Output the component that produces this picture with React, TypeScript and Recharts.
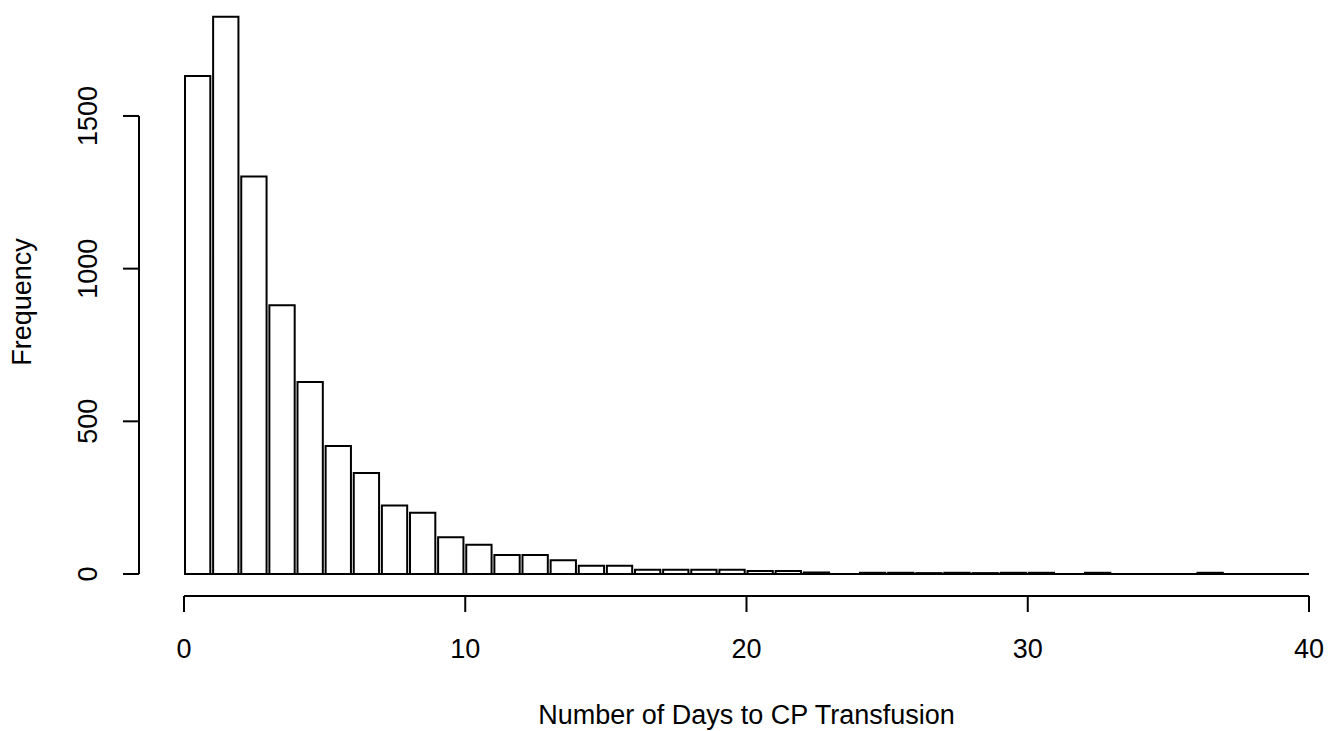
import React from 'react';
import { ComposedChart, Bar, XAxis, YAxis, ReferenceLine, Label } from 'recharts';

// Histogram bins (width 1 day) and counts
const binStarts = [0, 1, 2, 3, 4, 5, 6, 7, 8, 9, 10, 11, 12, 13, 14, 15, 16, 17, 18, 19,
  20, 21, 22, 23, 24, 25, 26, 27, 28, 29, 30, 31, 32, 33, 34, 35, 36, 37, 38, 39];
const counts = [1631, 1825, 1302, 880, 629, 419, 331, 224, 201, 120,
  96, 62, 62, 45, 27, 27, 14, 14, 14, 14,
  10, 10, 5, 0, 4, 4, 3, 4, 3, 4,
  4, 0, 4, 0, 0, 0, 4, 0, 0, 0];
const xTicks = [0, 10, 20, 30, 40];
const yTicks = [0, 500, 1000, 1500];
const xLabel = 'Number of Days to CP Transfusion';
const yLabel = 'Frequency';

const data = binStarts.map((s, i) => ({ mid: s + 0.5, count: counts[i] }));

const W = 1340;
const H = 731;
const X_MIN = -1.6;
const X_MAX = 40.8;
const Y_MIN = -72;
const Y_MAX = 1847;
const LEFT = 139;
const TOP = 10;
const RIGHT = 8.5;
const XAXIS_H = 135;
const FONT = "'Liberation Sans', Arial, sans-serif";
const FS = 27;
const PLOT_W = W - LEFT - RIGHT;
const BAR_PX = PLOT_W / (X_MAX - X_MIN);

const XTick = (props: any) => {
  const { x, y, payload } = props;
  return (
    <text x={x} y={y + 44} textAnchor="middle" fontFamily={FONT} fontSize={FS} fill="#000">
      {payload.value}
    </text>
  );
};

const YTick = (props: any) => {
  const { x, y, payload } = props;
  const bx = x - 24;
  return (
    <text x={bx} y={y} transform={`rotate(-90 ${bx} ${y})`} textAnchor="middle" fontFamily={FONT} fontSize={FS} fill="#000">
      {payload.value}
    </text>
  );
};

const XLabelC = (props: any) => {
  const vb = props.viewBox;
  const per = vb.width / (X_MAX - X_MIN);
  const cx = vb.x + (20 - X_MIN) * per;
  return (
    <text x={cx} y={vb.y + 128} textAnchor="middle" fontFamily={FONT} fontSize={FS} fill="#000">
      {xLabel}
    </text>
  );
};

const YLabelC = (props: any) => {
  const vb = props.viewBox;
  const bx = 31;
  const cy = vb.y + vb.height / 2 - 1;
  return (
    <text x={bx} y={cy} transform={`rotate(-90 ${bx} ${cy})`} textAnchor="middle" fontFamily={FONT} fontSize={FS} fill="#000">
      {yLabel}
    </text>
  );
};

export default function App() {
  return (
    <div style={{ position: 'absolute', left: 0, top: 0, width: W, height: H, background: '#fff', overflow: 'hidden' }}>
      <ComposedChart width={W} height={H} data={data} margin={{ top: TOP, right: RIGHT, bottom: 0, left: 0 }} barCategoryGap={0} barGap={0}>
        <XAxis
          dataKey="mid"
          type="number"
          domain={[X_MIN, X_MAX]}
          allowDataOverflow
          ticks={xTicks}
          interval={0}
          height={XAXIS_H}
          tickSize={16}
          axisLine={false}
          stroke="#000"
          tickLine={{ stroke: '#000', strokeWidth: 2 }}
          tick={<XTick />}
        >
          <Label content={<XLabelC />} />
        </XAxis>
        <YAxis
          type="number"
          domain={[Y_MIN, Y_MAX]}
          allowDataOverflow
          ticks={yTicks}
          interval={0}
          width={LEFT}
          tickSize={16}
          axisLine={false}
          stroke="#000"
          tickLine={{ stroke: '#000', strokeWidth: 2 }}
          tick={<YTick />}
        >
          <Label content={<YLabelC />} />
        </YAxis>
        <Bar dataKey="count" fill="#fff" stroke="#000" strokeWidth={2} barSize={BAR_PX} isAnimationActive={false} />
        <ReferenceLine segment={[{ x: 0, y: 0 }, { x: 40, y: 0 }]} stroke="#000" strokeWidth={2} ifOverflow="visible" />
        <ReferenceLine segment={[{ x: 0, y: Y_MIN }, { x: 40, y: Y_MIN }]} stroke="#000" strokeWidth={2} ifOverflow="visible" />
        <ReferenceLine segment={[{ x: X_MIN, y: 0 }, { x: X_MIN, y: 1500 }]} stroke="#000" strokeWidth={2} ifOverflow="visible" />
      </ComposedChart>
    </div>
  );
}
